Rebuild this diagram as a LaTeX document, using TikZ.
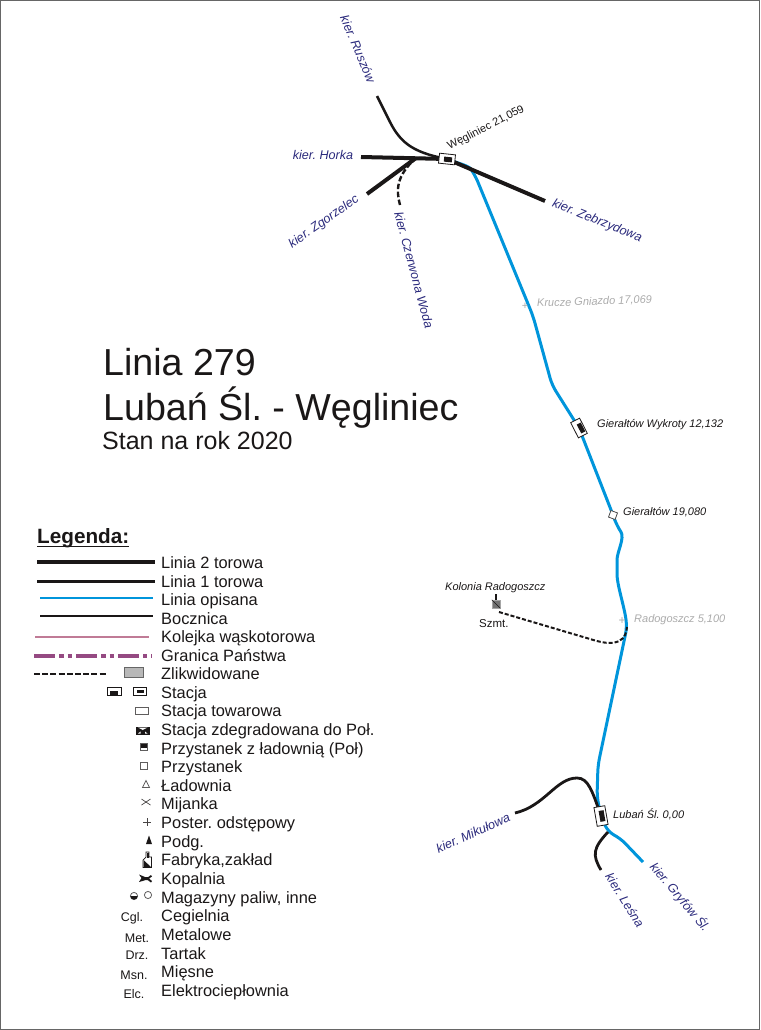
\documentclass[tikz,border=0pt]{standalone}
\usepackage{fontspec}
\setmainfont{Liberation Sans}
\usetikzlibrary{positioning,backgrounds}
\frenchspacing
\definecolor{linia}{HTML}{0095DB}
\definecolor{czern}{HTML}{1A1717}
\definecolor{kier}{HTML}{2B2A7C}
\definecolor{szary}{HTML}{ABABAB}
\definecolor{kolejka}{HTML}{C07B96}
\definecolor{granica}{HTML}{954A82}
\tikzset{
  tor2/.style={draw=czern,line width=4pt},
  tor1/.style={draw=czern,line width=3pt},
  bocz/.style={draw=czern,line width=2.8pt},
  opisana/.style={draw=linia,line width=3pt},
  zlikw/.style={draw=czern,line width=2.4pt,dash pattern=on 5.5pt off 2.5pt},
  kierunek/.style={inner sep=0pt,text=kier,font=\fontsize{12.6}{14}\selectfont\itshape},
  opis/.style={inner sep=0pt,anchor=base west,text=czern,font=\fontsize{11}{13}\selectfont\itshape},
  zamkn/.style={opis,text=szary},
  tytul/.style={inner sep=0pt,anchor=base west,text=czern},
  wpis/.style={inner sep=0pt,anchor=base west,text=czern,font=\fontsize{16.4}{18}\selectfont},
  skrot/.style={inner sep=0pt,text=czern,font=\fontsize{12.5}{14}\selectfont},
  stbox/.style={draw=czern,fill=white,line width=.8pt,inner sep=0pt},
  stcore/.style={fill=czern,inner sep=0pt},
  znak/.style={draw=czern!70,line width=.8pt,fill=white},
}
\begin{document}
\begin{tikzpicture}[x=1pt,y=-1pt]
\useasboundingbox (0,0) rectangle (760,1030);
\draw[draw=black!60,line width=1.2pt] (0.5,0.5) rectangle (759.5,1029.5);

% stacje
\node[stbox,minimum width=16pt,minimum height=10pt,rotate=-6] (wegliniec) at (447,159) {};
\node[stcore,minimum width=8pt,minimum height=5pt,rotate=-6] (wegliniec_c) at (448,159.5) {};
\node[stbox,minimum width=17pt,minimum height=10pt,rotate=-63] (wykroty) at (579,428) {};
\node[stcore,minimum width=10pt,minimum height=4.5pt,rotate=-63] (wykroty_c) at (581,428) {};
\node[stbox,draw=black!70,minimum width=7pt,minimum height=7pt,rotate=-20] (gieraltow) at (613,515) {};
\node[stbox,minimum width=19pt,minimum height=11pt,rotate=-80] (luban) at (601,816) {};
\node[stcore,minimum width=11pt,minimum height=5pt,rotate=-80] (luban_c) at (602,816) {};
\node[fill=black!55,draw=black!35,minimum width=8pt,minimum height=8pt,inner sep=0pt] (kolonia) at (496,604) {};
\draw[czern,line width=.5pt] (kolonia.north west) -- (kolonia.south east);

% punkty trasy
\coordinate (b1) at (475,175);
\coordinate (b2) at (533,316);
\coordinate (b3) at (552,385);
\coordinate (b5) at (617,526);
\coordinate (b6) at (617,567);
\coordinate (b7) at (627,627);
\coordinate (b9) at (598,765);
\coordinate (b10) at (597,797);
\coordinate (b11) at (608,832);
\coordinate (b12) at (620,838);
\coordinate (gryfow) at (643,862);
\coordinate (ruszow) at (377,96);
\coordinate (horka) at (361,157);
\coordinate (zgorzelec) at (367,194);
\coordinate (z1) at (416,158);
\coordinate (zebrzydowa) at (545,201);
\coordinate (woda) at (400,205);
\coordinate (mikulowa) at (515,813);
\coordinate (m2) at (577,778);
\coordinate (lesna) at (601,870);
\coordinate (s1) at (499,612);
\coordinate (s2) at (590,639);

\begin{scope}[on background layer]
% linia opisana
\draw[opisana,line join=round,rounded corners=7pt] (wegliniec.center) .. controls (456,163) and (468,165) .. (b1) -- (b2) -- (b3) -- (wykroty.center) -- (gieraltow.center) -- (b5) .. controls (625,538) and (617,552) .. (b6) .. controls (617,585) and (624,605) .. (b7) -- (b9) -- (b10) -- (luban.center) -- (b11) -- (b12) -- (gryfow);
% pozostale linie
\draw[bocz,line width=2.5pt] (ruszow) -- (388,118) .. controls (399,141) and (410,152) .. (wegliniec.center);
\draw[bocz] (mikulowa) .. controls (545,806) and (556,778) .. (m2) .. controls (588,778) and (592,790) .. (luban.center);
\draw[bocz] (lesna) .. controls (592,855) and (593,848) .. (b11);
\path[tor2]
  (horka) edge (wegliniec.center)
  (zgorzelec) edge (z1)
  (zebrzydowa) edge (wegliniec.center);
\draw[zlikw] (woda) .. controls (396,190) and (396,176) .. (z1) -- (wegliniec.center);
\draw[zlikw,line width=2pt,dash pattern=on 4pt off 2pt] (s1) -- (s2) .. controls (606,644) and (625,648) .. (b7);
\draw[draw=czern,line width=1.8pt] (kolonia.center) -- ++(0,-10);
\end{scope}

% opisy
\node[kierunek,rotate=-67] (k_ruszow) at (358,49) {kier. Ruszów};
\node[kierunek] (k_horka) at (323,155) {kier. Horka};
\node[kierunek,rotate=35] (k_zgorzelec) at (324,222) {kier. Zgorzelec};
\node[kierunek,rotate=-75] (k_woda) at (414,270) {kier. Czerwona Woda};
\node[kierunek,rotate=-22] (k_zebrzydowa) at (597,221) {kier. Zebrzydowa};
\node[kierunek,rotate=24] (k_mikulowa) at (473,833) {kier. Mikułowa};
\node[kierunek,rotate=-58] (k_lesna) at (625,900) {kier. Leśna};
\node[kierunek,rotate=-50] (k_gryfow) at (680,897) {kier. Gryfów Śl.};

\node[inner sep=0pt,text=czern,rotate=27,font=\fontsize{11}{13}\selectfont] (o_wegliniec) at (486,128) {Węgliniec 21,059};
\node[zamkn,rotate=2] (o_krucze) at (537,307) {Krucze Gniazdo 17,069};
\node[opis] (o_wykroty) at (597,427) {Gierałtów Wykroty 12,132};
\node[opis] (o_gieraltow) at (623,515) {Gierałtów 19,080};
\node[zamkn] (o_radogoszcz) at (634,622) {Radogoszcz 5,100};
\node[opis] (o_kolonia) at (445,590) {Kolonia Radogoszcz};
\node[opis,font=\fontsize{11.5}{13}\selectfont] (o_szmt) at (479,627) {Szmt.};
\node[opis] (o_luban) at (613,818) {Lubań Śl. 0,00};
\node[text=szary,inner sep=0pt,font=\fontsize{11}{11}\selectfont] (p_krucze) at (525,306) {+};
\node[text=szary,inner sep=0pt,font=\fontsize{12}{12}\selectfont] (p_radogoszcz) at (622,621) {+};

% tytul
\node[tytul,font=\fontsize{37.6}{40}\selectfont] (t1) at (103,375) {Linia 279};
\node[tytul,font=\fontsize{37.6}{40}\selectfont] (t2) at (103,420) {Lubań Śl. - Węgliniec};
\node[tytul,font=\fontsize{25}{27}\selectfont] (t3) at (102,449) {Stan na rok 2020};

% legenda
\node[tytul,font=\fontsize{20.7}{23}\selectfont\bfseries] (leg) at (37,543) {Legenda:};
\draw[draw=czern,line width=1.5pt] ([yshift=-3.5pt]leg.base west) -- ([yshift=-3.5pt]leg.base east);
\foreach \y/\t [count=\i] in {568/Linia 2 torowa,587/Linia 1 torowa,605/Linia opisana,624/Bocznica,642/Kolejka wąskotorowa,661/Granica Państwa,679/Zlikwidowane,698/Stacja,716/Stacja towarowa,735/Stacja zdegradowana do Poł.,754/Przystanek z ładownią (Poł),772/Przystanek,791/Ładownia,809/Mijanka,828/Poster. odstępowy,847/Podg.,865/{Fabryka,zakład},884/Kopalnia,903/{Magazyny paliw, inne},921/Cegielnia,940/Metalowe,959/Tartak,977/Mięsne,996/Elektrociepłownia}
  \node[wpis] (w\i) at (161,\y) {\t};

\foreach \n/\xa/\xb/\y in {a/37/155/562,b/37/155/581,c/40/153/598,d/40/153/616,e/35/149/637,f/34/152/656,g/34/107/674} {
  \coordinate (l\n1) at (\xa,\y);
  \coordinate (l\n2) at (\xb,\y);
}
\draw[tor2] (la1) -- (la2);
\draw[tor1] (lb1) -- (lb2);
\draw[draw=linia,line width=2pt] (lc1) -- (lc2);
\draw[draw=czern,line width=1.8pt] (ld1) -- (ld2);
\draw[draw=kolejka,line width=2pt] (le1) -- (le2);
\draw[draw=granica,line width=3.5pt,dash pattern=on 21pt off 4.3pt on 4.3pt off 4pt on 4.3pt off 4pt] (lf1) -- (lf2);
\draw[draw=czern,line width=2.6pt,dash pattern=on 6pt off 2.2pt] (lg1) -- (lg2);

% znaki legendy
\draw[draw=black!60,fill=black!28,line width=.8pt] (124,667) rectangle (143,677);
\draw[draw=czern,fill=white,line width=.8pt] (107,687.5) rectangle (121,695);
\fill[czern] (110,691) rectangle (118,695);
\draw[draw=czern,fill=white,line width=.8pt] (133.5,687.5) rectangle (146.5,695);
\fill[czern] (136.5,689.5) rectangle (143.5,693);
\draw[znak] (135.5,707.5) rectangle (148.5,714.5);
\draw[draw=czern,fill=czern,line width=.8pt] (136.5,727) rectangle (149,734);
\fill[white] (138,727.5) -- (147.5,727.5) -- (142.75,730) -- cycle;
\fill[white] (138,733.5) -- (140.5,731.5) -- (140.5,733.5) -- cycle;
\fill[white] (147.5,733.5) -- (145,731.5) -- (145,733.5) -- cycle;
\draw[znak] (140.5,743.5) rectangle (147.5,750.5);
\fill[czern] (141,744) rectangle (147,747.5);
\draw[znak] (140.5,762.5) rectangle (147.5,769.5);
\draw[znak] (142.5,787.5) -- (146,780.5) -- (149.5,787.5) -- cycle;
\draw[draw=czern!80,line width=.7pt] (141.5,799) -- (146,802) -- (150.5,799);
\draw[draw=czern!80,line width=.7pt] (141.5,805) -- (146,802) -- (150.5,805);
\draw[draw=czern!80,line width=.7pt] (143,822) -- (151,822) (147,818) -- (147,826);
\fill[czern] (146,844) -- (149,835.5) -- (152,844) -- cycle;
\draw[draw=czern,line width=.7pt,fill=white] (143,867.5) -- (143,860) -- (146,857) -- (146,852) -- (149,852) -- (149,857) -- (151.5,857) -- (151.5,867.5) -- cycle;
\fill[czern] (143.5,860) -- (151,867) -- (143.5,867) -- cycle;
\fill[czern] (146.5,852.5) rectangle (148.5,858);
\fill[czern] (139,874.5) .. controls (143,875.5) and (147,880) .. (151,875) -- (152,876.5) -- (149,878.5) -- (152,881) -- (151,882.5) .. controls (147,877.5) and (143,881.5) .. (139,882) -- (141.5,878) -- cycle;
\draw[znak] (134,896) circle (3.6pt);
\fill[czern] (130.4,896) arc[start angle=180,end angle=360,radius=3.6pt] -- cycle;
\draw[znak] (148,895) circle (3.6pt);

\foreach \x/\y/\t [count=\i] in {132/918/Cgl.,137/938/Met.,137/955/Drz.,134/975/Msn.,134/994/Elc.}
  \node[skrot] (s\i) at (\x,\y) {\t};
\end{tikzpicture}
\end{document}
